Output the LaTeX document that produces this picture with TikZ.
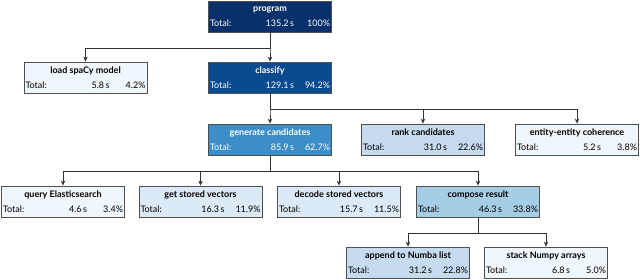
\documentclass[tikz,border=0pt]{standalone}
\usepackage{fontspec}
\setmainfont{Lato}
\usetikzlibrary{arrows.meta,positioning}

\definecolor{blueA}{HTML}{08306B}
\definecolor{blueB}{HTML}{0A4A90}
\definecolor{blueC}{HTML}{3D8DC8}
\definecolor{blueD}{HTML}{A5CDE5}
\definecolor{blueE}{HTML}{C6DBEF}
\definecolor{blueF}{HTML}{DCE9F6}
\definecolor{blueG}{HTML}{EFF6FC}
\definecolor{edgegray}{HTML}{505050}

% box text: name on top, total row below
\newcommand{\prof}[3]{\textbf{#1}\\\makebox[120pt]{Total:\hfill #2\,s\makebox[36pt][r]{#3\%}}}

\begin{document}
\begin{tikzpicture}[x=1pt,y=-1pt,
  call/.style={draw=edgegray,line width=0.8pt,minimum width=123pt,minimum height=31pt,
    inner xsep=1.5pt,inner ysep=0pt,align=center,font=\fontsize{9}{15}\selectfont},
  conn/.style={-{Stealth[length=5pt,width=4.5pt]},line width=0.8pt,draw=black!80}]
\useasboundingbox (0,0) rectangle (640,279);

% level 0 and 1
\node[call,fill=blueA,text=white] (program) at (270,16.5) {\prof{program}{135.2}{100}};
\node[call,fill=blueG] (load) at (85.5,77.5) {\prof{load spaCy model}{5.8}{4.2}};
\node[call,fill=blueB,text=white] (classify) at (270,77.5) {\prof{classify}{129.1}{94.2}};

% level 2
\node[call,fill=blueC,text=white] (generate) at (270,139.5) {\prof{generate candidates}{85.9}{62.7}};
\node[call,fill=blueE] (rank) at (423,139.5) {\prof{rank candidates}{31.0}{22.6}};
\node[call,fill=blueG] (entity) at (577,139.5) {\prof{entity-entity coherence}{5.2}{3.8}};

% level 3
\node[call,fill=blueG] (query) at (63,201.5) {\prof{query Elasticsearch}{4.6}{3.4}};
\node[call,fill=blueF] (getvec) at (200.5,201.5) {\prof{get stored vectors}{16.3}{11.9}};
\node[call,fill=blueF] (decode) at (339,201.5) {\prof{decode stored vectors}{15.7}{11.5}};
\node[call,fill=blueD] (compose) at (478,201.5) {\prof{compose result}{46.3}{33.8}};

% level 4
\node[call,fill=blueE] (append) at (408,262.5) {\prof{append to Numba list}{31.2}{22.8}};
\node[call,fill=blueG] (stack) at (546,262.5) {\prof{stack Numpy arrays}{6.8}{5.0}};

% connectors
\foreach \p/\c in {program/load,program/classify,classify/generate,classify/rank,classify/entity,
  generate/query,generate/getvec,generate/decode,generate/compose,compose/append,compose/stack}
  \draw[conn] (\p.south) -- ++(0,15.5) -| (\c.north);
\end{tikzpicture}
\end{document}
